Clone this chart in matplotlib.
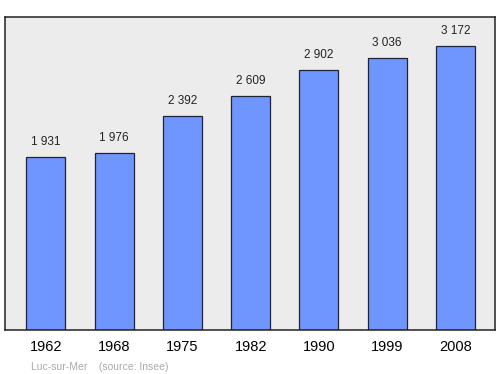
import matplotlib.pyplot as plt

# Population data
years = ['1962', '1968', '1975', '1982', '1990', '1999', '2008']
population = [1931, 1976, 2392, 2609, 2902, 3036, 3172]
value_labels = ['1 931', '1 976', '2 392', '2 609', '2 902', '3 036', '3 172']

plt.rcParams['font.family'] = ['Liberation Sans', 'DejaVu Sans']

fig = plt.figure(figsize=(5, 3.74), dpi=100)
ax = fig.add_axes([0.01, 0.1176, 0.98, 0.837])
ax.set_facecolor('#ececec')

x = list(range(len(years)))
ax.bar(x, population, width=0.57, color='#6f96ff', edgecolor='#222233', linewidth=0.9)

for xi, v, lab in zip(x, population, value_labels):
    ax.text(xi, v + 100, lab, ha='center', va='bottom', fontsize=8.5, color='#222222')

ax.set_xlim(-0.6, 6.58)
ax.set_ylim(0, 3496)
ax.set_yticks([])
ax.set_xticks(x)
ax.set_xticklabels(years, fontsize=10.5)
ax.tick_params(axis='x', length=0, pad=7)

for s in ax.spines.values():
    s.set_color('#222222')
    s.set_linewidth(1.1)

fig.text(0.062, 0.012, 'Luc-sur-Mer    (source: Insee)', fontsize=7.5, color='#aaaaaa')

fig.savefig('out.png', dpi=100)
